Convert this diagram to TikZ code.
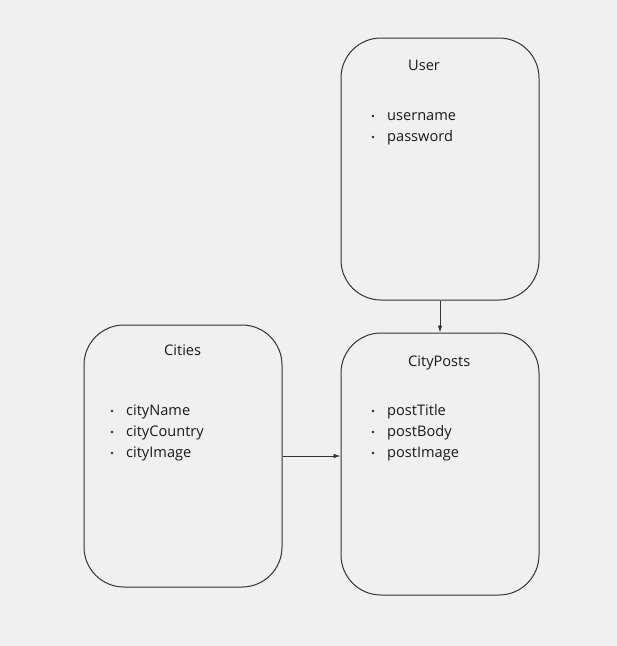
\documentclass[tikz,border=0pt]{standalone}
\usepackage{fontspec}
\setmainfont{Open Sans}
\usetikzlibrary{arrows.meta}
\definecolor{bg}{HTML}{F0F0F0}
\definecolor{ln}{HTML}{333333}
\begin{document}
\begin{tikzpicture}[x=1pt,y=-1pt,
  entity/.style={draw=ln,line width=1pt,rounded corners=40pt,minimum width=198pt,minimum height=262pt,inner sep=0pt},
  lbl/.style={anchor=base west,inner sep=0pt,font=\fontsize{14.6}{16}\selectfont,text=black!90},
  dot/.style={circle,fill=black!85,inner sep=0pt,minimum size=2.8pt},
  conn/.style={draw=ln,line width=0.7pt,-{Latex[length=7pt,width=4.5pt]}}]
\fill[bg] (0,0) rectangle (617,646);
\useasboundingbox (0,0) rectangle (617,646);
\node[entity] (user) at (440,169) {};
\node[entity] (posts) at (440,464) {};
\node[entity] (cities) at (183,456) {};
% User
\node[lbl] (userT) at (408,70) {User};
\node[dot] (u1) at (373,116) {};
\node[lbl] (userA) at (387,120) {username};
\node[dot] (u2) at (373,137) {};
\node[lbl] (userB) at (387,141) {password};
% CityPosts
\node[lbl] (postsT) at (408,366) {CityPosts};
\node[dot] (p1) at (373,411) {};
\node[lbl] (postsA) at (387,415) {postTitle};
\node[dot] (p2) at (373,432) {};
\node[lbl] (postsB) at (387,436) {postBody};
\node[dot] (p3) at (373,453) {};
\node[lbl] (postsC) at (387,457) {postImage};
% Cities
\node[lbl] (citiesT) at (164,355) {Cities};
\node[dot] (c1) at (112,411) {};
\node[lbl] (citiesA) at (126,415) {cityName};
\node[dot] (c2) at (112,432) {};
\node[lbl] (citiesB) at (126,436) {cityCountry};
\node[dot] (c3) at (112,453) {};
\node[lbl] (citiesC) at (126,457) {cityImage};
% connectors
\draw[conn] (user.south) -- (posts.north);
\draw[conn] (cities.east |- 0,456) -- (posts.west |- 0,456);
\end{tikzpicture}
\end{document}
